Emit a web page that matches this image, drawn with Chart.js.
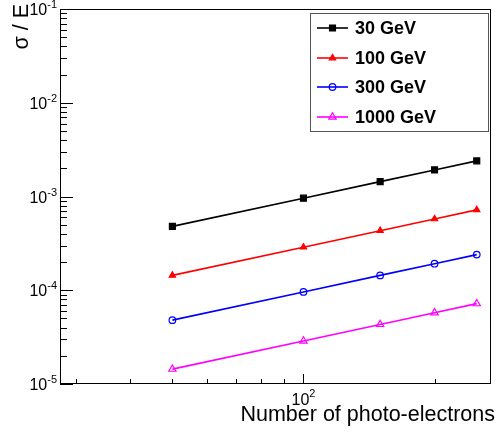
<!DOCTYPE html>
<html>
<head>
<meta charset="utf-8">
<script src="https://cdn.jsdelivr.net/npm/chart.js@4"></script>
<style>
  html, body { margin: 0; padding: 0; background: #fff; }
  #wrap { width: 496px; height: 432px; }
</style>
</head>
<body>
<div id="wrap"><canvas id="ResChart" width="496" height="432"></canvas></div>
<script>
const PhotoElectrons = [50, 100, 150, 200, 250];
const Energies = ["30 GeV", "100 GeV", "300 GeV", "1000 GeV"];
const Res30 = [4.8e-4, 9.6e-4, 1.44e-3, 1.92e-3, 2.4e-3];
const Res100 = [1.44e-4, 2.88e-4, 4.32e-4, 5.76e-4, 7.2e-4];
const Res300 = [4.8e-5, 9.6e-5, 1.44e-4, 1.92e-4, 2.4e-4];
const Res1000 = [1.44e-5, 2.88e-5, 4.32e-5, 5.76e-5, 7.2e-5];
const YDecades = [-5, -4, -3, -2, -1];
const XMinorTicks = [30, 40, 50, 60, 70, 80, 90, 200];
const XMajorTicks = [100];

const FONT = '"Liberation Sans", Arial, sans-serif';

// marker look per series
const Styles = [
  { color: "#000000", point: "rect", radius: 4.2, fill: true },
  { color: "#ff0000", point: "triangle", radius: 3.6, fill: true },
  { color: "#0000ff", point: "circle", radius: 3.3, fill: false },
  { color: "#ff00ff", point: "triangle", radius: 4.2, fill: false },
];

const toPoints = (ys) => ys.map((y, i) => ({ x: PhotoElectrons[i], y: y }));

const datasets = [Res30, Res100, Res300, Res1000].map((ys, i) => ({
  label: Energies[i],
  data: toPoints(ys),
  borderColor: Styles[i].color,
  borderWidth: 1.6,
  pointStyle: Styles[i].point,
  pointRadius: Styles[i].radius,
  pointBorderWidth: 1.2,
  pointBackgroundColor: Styles[i].fill ? Styles[i].color : "rgba(0,0,0,0)",
  pointBorderColor: Styles[i].color,
  showLine: true,
  tension: 0,
  fill: false,
}));

// power of ten with a raised exponent, anchor "right" or "center"
function drawPow(ctx, exp, x, y, anchor, big, small, lift) {
  ctx.font = `${big}px ${FONT}`;
  const wb = ctx.measureText("10").width;
  ctx.font = `${small}px ${FONT}`;
  const ws = ctx.measureText(exp).width;
  let left = anchor === "right" ? x - wb - ws : x - (wb + ws) / 2;
  ctx.textAlign = "left";
  ctx.textBaseline = "alphabetic";
  ctx.font = `${big}px ${FONT}`;
  ctx.fillText("10", left, y);
  ctx.font = `${small}px ${FONT}`;
  ctx.fillText(exp, left + wb, y - lift);
}

const rootFrame = {
  id: "rootFrame",
  afterDatasetsDraw(chart) {
    const { ctx, chartArea: a, scales } = chart;
    const xs = scales.x, ys = scales.y;
    ctx.save();
    ctx.strokeStyle = "#000";
    ctx.lineWidth = 1;
    ctx.strokeRect(Math.round(a.left) + 0.5, Math.round(a.top) + 0.5,
      Math.round(a.right - a.left) - 1, Math.round(a.bottom - a.top) - 1);

    // y ticks, inside the frame
    ctx.beginPath();
    YDecades.forEach((k) => {
      const yMaj = Math.round(ys.getPixelForValue(Math.pow(10, k))) + 0.5;
      ctx.moveTo(a.left, yMaj); ctx.lineTo(a.left + 13, yMaj);
      if (k < -1) {
        for (let m = 2; m <= 9; m++) {
          const yMin = Math.round(ys.getPixelForValue(m * Math.pow(10, k))) + 0.5;
          ctx.moveTo(a.left, yMin); ctx.lineTo(a.left + 7, yMin);
        }
      }
    });
    // x ticks
    XMinorTicks.forEach((v) => {
      const x = Math.round(xs.getPixelForValue(v)) + 0.5;
      ctx.moveTo(x, a.bottom); ctx.lineTo(x, a.bottom - 5);
    });
    XMajorTicks.forEach((v) => {
      const x = Math.round(xs.getPixelForValue(v)) + 0.5;
      ctx.moveTo(x, a.bottom); ctx.lineTo(x, a.bottom - 10);
    });
    ctx.stroke();

    // tick labels
    ctx.fillStyle = "#000";
    YDecades.forEach((k) => {
      const y = ys.getPixelForValue(Math.pow(10, k));
      drawPow(ctx, String(k), a.left - 3, y + 6, "right", 16, 11, 7);
    });
    XMajorTicks.forEach((v) => {
      const x = xs.getPixelForValue(v);
      drawPow(ctx, String(Math.round(Math.log10(v))), x, a.bottom + 21, "center", 16, 11, 8);
    });

    // axis titles
    ctx.font = `21.5px ${FONT}`;
    ctx.textAlign = "right";
    ctx.textBaseline = "alphabetic";
    ctx.fillText("Number of photo-electrons", 495, 421);
    ctx.save();
    ctx.translate(28, 4);
    ctx.rotate(-Math.PI / 2);
    ctx.fillText("\u03c3 / E", 0, 0);
    ctx.restore();

    // legend box
    const L = { left: 310, top: 13, right: 488, bottom: 131 };
    ctx.fillStyle = "#fff";
    ctx.fillRect(L.left, L.top, L.right - L.left, L.bottom - L.top);
    ctx.strokeStyle = "#555";
    ctx.lineWidth = 1;
    ctx.strokeRect(L.left + 0.5, L.top + 0.5, L.right - L.left, L.bottom - L.top);
    const rowY = [28, 58, 87, 117];
    chart.data.datasets.forEach((ds, i) => {
      const y = rowY[i];
      ctx.strokeStyle = ds.borderColor;
      ctx.lineWidth = 1.6;
      ctx.beginPath();
      ctx.moveTo(317, y); ctx.lineTo(348, y);
      ctx.stroke();
      ctx.fillStyle = ds.pointBackgroundColor;
      ctx.strokeStyle = ds.pointBorderColor;
      ctx.lineWidth = ds.pointBorderWidth;
      Chart.helpers.drawPoint(ctx, { pointStyle: ds.pointStyle, radius: ds.pointRadius, borderWidth: ds.pointBorderWidth, rotation: 0 }, 332.5, y);
      ctx.fillStyle = "#000";
      ctx.font = `bold 18px ${FONT}`;
      ctx.textAlign = "left";
      ctx.textBaseline = "middle";
      ctx.fillText(ds.label, 355, y + 1);
    });
    ctx.restore();
  },
};

new Chart(document.getElementById("ResChart"), {
  type: "line",
  data: { datasets: datasets },
  options: {
    responsive: false,
    animation: false,
    layout: { padding: { left: 60, top: 9, right: 3, bottom: 48 } },
    scales: {
      x: { type: "logarithmic", min: 27.6, max: 269, display: false },
      y: { type: "logarithmic", min: 1e-5, max: 1e-1, display: false },
    },
    plugins: { legend: { display: false }, tooltip: { enabled: false } },
  },
  plugins: [rootFrame],
});
</script>
</body>
</html>
